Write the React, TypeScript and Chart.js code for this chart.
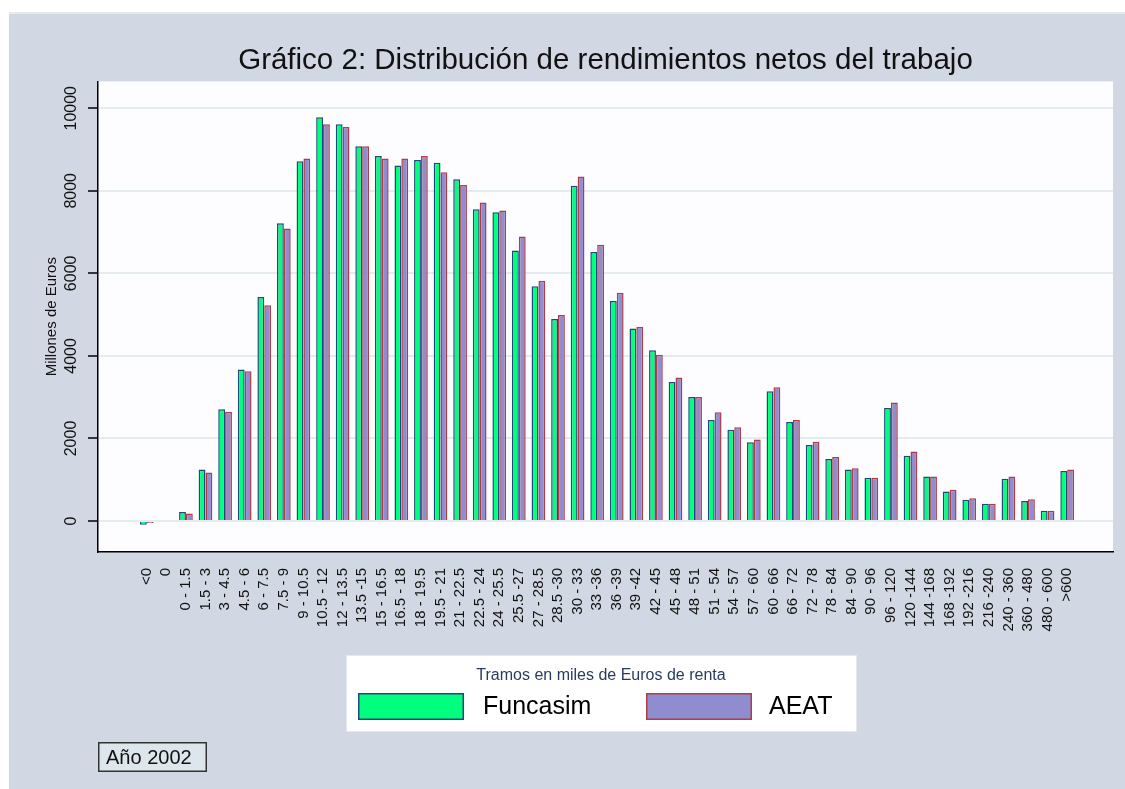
import { useEffect, useRef } from 'react';
import { Chart, registerables } from 'chart.js';

Chart.register(...registerables);

const FONT = '"Liberation Sans", Arial, Helvetica, sans-serif';

const chartTitle = 'Gráfico 2: Distribución de rendimientos netos del trabajo';
const yAxisTitle = 'Millones de Euros';
const legendTitle = 'Tramos en miles de Euros de renta';
const noteText = 'Año 2002';
const seriesNames = ['Funcasim', 'AEAT'];

const categories = [
  '<0', '0', '0 - 1.5', '1.5 - 3', '3 - 4.5', '4.5 - 6', '6 - 7.5', '7.5 - 9',
  '9 - 10.5', '10.5 - 12', '12 - 13.5', '13.5 -15', '15 - 16.5', '16.5 - 18',
  '18 - 19.5', '19.5 - 21', '21 - 22.5', '22.5 - 24', '24 - 25.5', '25.5 -27',
  '27 - 28.5', '28.5 -30', '30 - 33', '33 -36', '36 -39', '39 -42', '42 - 45',
  '45 - 48', '48 - 51', '51 - 54', '54 - 57', '57 - 60', '60 - 66', '66 - 72',
  '72 - 78', '78 - 84', '84 - 90', '90 - 96', '96 - 120', '120 -144', '144 -168',
  '168 -192', '192 -216', '216 -240', '240 - 360', '360 - 480', '480 - 600', '>600',
];

const funcasim = [
  -90, 0, 220, 1250, 2710, 3670, 5425, 7215, 8715, 9780, 9610, 9080, 8845, 8610,
  8745, 8680, 8280, 7555, 7480, 6555, 5690, 4895, 8120, 6520, 5330, 4665, 4135,
  3370, 3005, 2445, 2210, 1910, 3145, 2400, 1840, 1505, 1250, 1050, 2740, 1580,
  1080, 715, 515, 420, 1025, 485, 250, 1215,
];

const aeat = [
  -50, 0, 180, 1175, 2645, 3630, 5225, 7085, 8780, 9610, 9545, 9080, 8780, 8780,
  8845, 8450, 8140, 7715, 7520, 6890, 5820, 4990, 8345, 6690, 5530, 4700, 4030,
  3475, 3005, 2635, 2275, 1975, 3240, 2445, 1920, 1550, 1280, 1050, 2870, 1685,
  1080, 760, 555, 420, 1080, 525, 250, 1250,
];

const yTicks = [0, 2000, 4000, 6000, 8000, 10000];
const yMin = -750;
const yMax = 10650;

export default function App() {
  const ref = useRef<HTMLCanvasElement>(null);

  useEffect(() => {
    const canvas = ref.current;
    if (!canvas) return;

    const bgPlugin = {
      id: 'panelBackground',
      beforeDraw(chart: any) {
        const { ctx, chartArea: a } = chart;
        ctx.save();
        ctx.fillStyle = '#ffffff';
        ctx.fillRect(0, 0, chart.width, chart.height);
        ctx.fillStyle = '#e6ecec';
        ctx.fillRect(9, 12, chart.width - 9, 2);
        ctx.fillStyle = '#d1d8e3';
        ctx.fillRect(9, 14, chart.width - 9, chart.height - 14);
        ctx.fillStyle = '#fdfdff';
        ctx.fillRect(a.left, a.top, a.right - a.left, a.bottom - a.top);
        ctx.restore();
      },
    };

    const legendPlugin = {
      id: 'customLegend',
      afterDraw(chart: any) {
        const ctx = chart.ctx;
        ctx.save();
        // legend panel
        ctx.fillStyle = '#ffffff';
        ctx.fillRect(346, 655, 510, 76);
        ctx.strokeStyle = '#e3e9ee';
        ctx.lineWidth = 1;
        ctx.strokeRect(346.5, 655.5, 510, 76);
        ctx.fillStyle = '#2b3a63';
        ctx.font = `16px ${FONT}`;
        ctx.textAlign = 'center';
        ctx.textBaseline = 'middle';
        ctx.fillText(legendTitle, 601, 676);
        const items = [
          { x: 358, tx: 483 },
          { x: 646, tx: 769 },
        ];
        chart.data.datasets.forEach((ds: any, i: number) => {
          const it = items[i];
          ctx.fillStyle = ds.backgroundColor;
          ctx.fillRect(it.x, 693, 106, 27);
          ctx.strokeStyle = ds.borderColor;
          ctx.lineWidth = 1.5;
          ctx.strokeRect(it.x + 0.75, 693.75, 104.5, 25.5);
          ctx.fillStyle = '#000000';
          ctx.font = `25px ${FONT}`;
          ctx.textAlign = 'left';
          ctx.textBaseline = 'middle';
          ctx.fillText(ds.label, it.tx, 707);
        });
        // note box
        ctx.fillStyle = '#dde6ea';
        ctx.fillRect(98, 742, 109, 30);
        ctx.strokeStyle = '#333333';
        ctx.lineWidth = 1.5;
        ctx.strokeRect(98.75, 742.75, 107.5, 28.5);
        ctx.fillStyle = '#111111';
        ctx.font = `20px ${FONT}`;
        ctx.textAlign = 'left';
        ctx.textBaseline = 'middle';
        ctx.fillText(noteText, 106, 758);
        ctx.restore();
      },
    };

    Chart.defaults.font.family = FONT;

    const chart = new Chart(canvas, {
      type: 'bar',
      data: {
        datasets: [
          {
            label: seriesNames[0],
            data: funcasim.map((v, i) => ({ x: i, y: v })),
            backgroundColor: '#00ff7f',
            borderColor: '#1f4a78',
            borderWidth: 1.5,
          },
          {
            label: seriesNames[1],
            data: aeat.map((v, i) => ({ x: i, y: v })),
            backgroundColor: '#8f8cd0',
            borderColor: '#b03c48',
            borderWidth: 1.5,
          },
        ],
      },
      options: {
        animation: false,
        responsive: false,
        maintainAspectRatio: false,
        categoryPercentage: 0.7,
        barPercentage: 1,
        layout: { padding: { left: 10, right: 12, top: 0, bottom: 0 } },
        plugins: {
          legend: { display: false },
          tooltip: { enabled: false },
          title: {
            display: true,
            text: chartTitle,
            fullSize: false,
            color: '#111111',
            font: { size: 29.5, weight: 'normal', family: FONT },
            padding: { top: 43, bottom: 3 },
          },
        },
        scales: {
          x: {
            type: 'linear',
            min: -1.95,
            max: 48.8,
            grid: { display: false, drawTicks: false },
            border: { display: true, color: '#000000', width: 1.5 },
            afterBuildTicks: (s: any) => {
              s.ticks = categories.map((_, i) => ({ value: i }));
            },
            afterFit: (s: any) => {
              s.height = 237;
              s.paddingLeft = 0;
              s.paddingRight = 0;
            },
            ticks: {
              autoSkip: false,
              minRotation: 90,
              maxRotation: 90,
              padding: 16,
              color: '#111111',
              font: { size: 15 },
              callback: (v: any) => categories[Math.round(Number(v))] ?? '',
            },
          },
          y: {
            min: yMin,
            max: yMax,
            afterBuildTicks: (s: any) => {
              s.ticks = yTicks.map((v) => ({ value: v }));
            },
            afterFit: (s: any) => {
              s.width = 88;
              s.paddingTop = 0;
              s.paddingBottom = 0;
            },
            grid: {
              color: '#e4ecf0',
              lineWidth: 2,
              tickColor: '#000000',
              tickLength: 10,
              tickWidth: 1.5,
            },
            border: { display: true, color: '#000000', width: 1.5 },
            ticks: {
              minRotation: 90,
              maxRotation: 90,
              crossAlign: 'center',
              padding: -6,
              color: '#111111',
              font: { size: 16 },
              callback: (v: any) => String(v),
            },
            title: {
              display: true,
              text: yAxisTitle,
              color: '#111111',
              font: { size: 15 },
              padding: { top: 33, bottom: 0 },
            },
          },
        },
      },
      plugins: [bgPlugin, legendPlugin],
    } as any);

    return () => chart.destroy();
  }, []);

  return (
    <div style={{ position: 'fixed', left: 0, top: 0, width: 1125, height: 789 }}>
      <canvas ref={ref} width={1125} height={789} style={{ display: 'block' }} />
    </div>
  );
}
